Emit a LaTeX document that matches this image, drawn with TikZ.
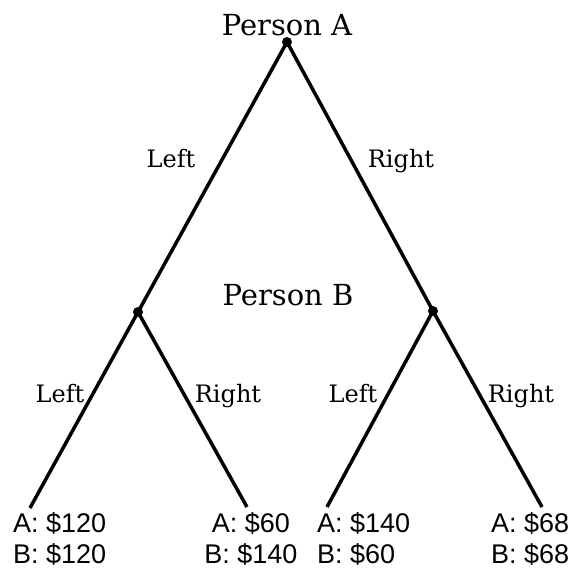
\documentclass[tikz,border=0pt]{standalone}
\usepackage{fontspec}
\setmainfont{DejaVu Serif}
\newfontfamily\payfont{Liberation Sans}
\definecolor{ink}{HTML}{000000}

\tikzset{
  branch/.style={draw=ink,line width=3.5pt},
  choice/.style={circle,fill=ink,inner sep=0pt,minimum size=10pt},
  player/.style={font=\fontsize{29}{32}\selectfont,inner sep=0pt,anchor=base},
  move/.style={font=\fontsize{24}{28}\selectfont,inner sep=0pt,anchor=base},
  payoff/.style={font=\payfont\fontsize{27}{31}\selectfont,inner sep=0pt,
    text depth=0pt}
}

\begin{document}
\begin{tikzpicture}[x=1pt,y=-1pt,text=ink]
  \useasboundingbox (0,0) rectangle (574,568);
  % decision points
  \node[choice] (pa) at (287,42) {};
  \node[choice] (pbl) at (138,312) {};
  \node[choice] (pbr) at (433,311) {};
  \coordinate (ll) at (30,508);
  \coordinate (lr) at (247,507);
  \coordinate (rl) at (327,507);
  \coordinate (rr) at (542,507);
  % branches
  \draw[branch] (pa.center)--(pbl.center);
  \draw[branch] (pa.center)--(pbr.center);
  \draw[branch] (pbl.center)--(ll);
  \draw[branch] (pbl.center)--(lr);
  \draw[branch] (pbr.center)--(rl);
  \draw[branch] (pbr.center)--(rr);
  % players and moves
  \node[player] (na) at (287,35) {Person A};
  \node[player] (nb) at (288,305) {Person B};
  \node[move] (ma1) at (171,167) {Left};
  \node[move] (ma2) at (401,167) {Right};
  \node[move] (mb1) at (60,402) {Left};
  \node[move] (mb2) at (228,402) {Right};
  \node[move] (mb3) at (353,402) {Left};
  \node[move] (mb4) at (521,402) {Right};
  % payoffs (base is the last line)
  \node[payoff,align=left,anchor=base west] (p1) at (13,563)
    {A: \$120\\B: \$120};
  \node[payoff,align=center,anchor=base] (p2) at (251,563)
    {A: \$60\\B: \$140};
  \node[payoff,align=left,anchor=base west] (p3) at (317,563)
    {A: \$140\\B: \$60};
  \node[payoff,align=left,anchor=base west] (p4) at (491,563)
    {A: \$68\\B: \$68};
\end{tikzpicture}
\end{document}
